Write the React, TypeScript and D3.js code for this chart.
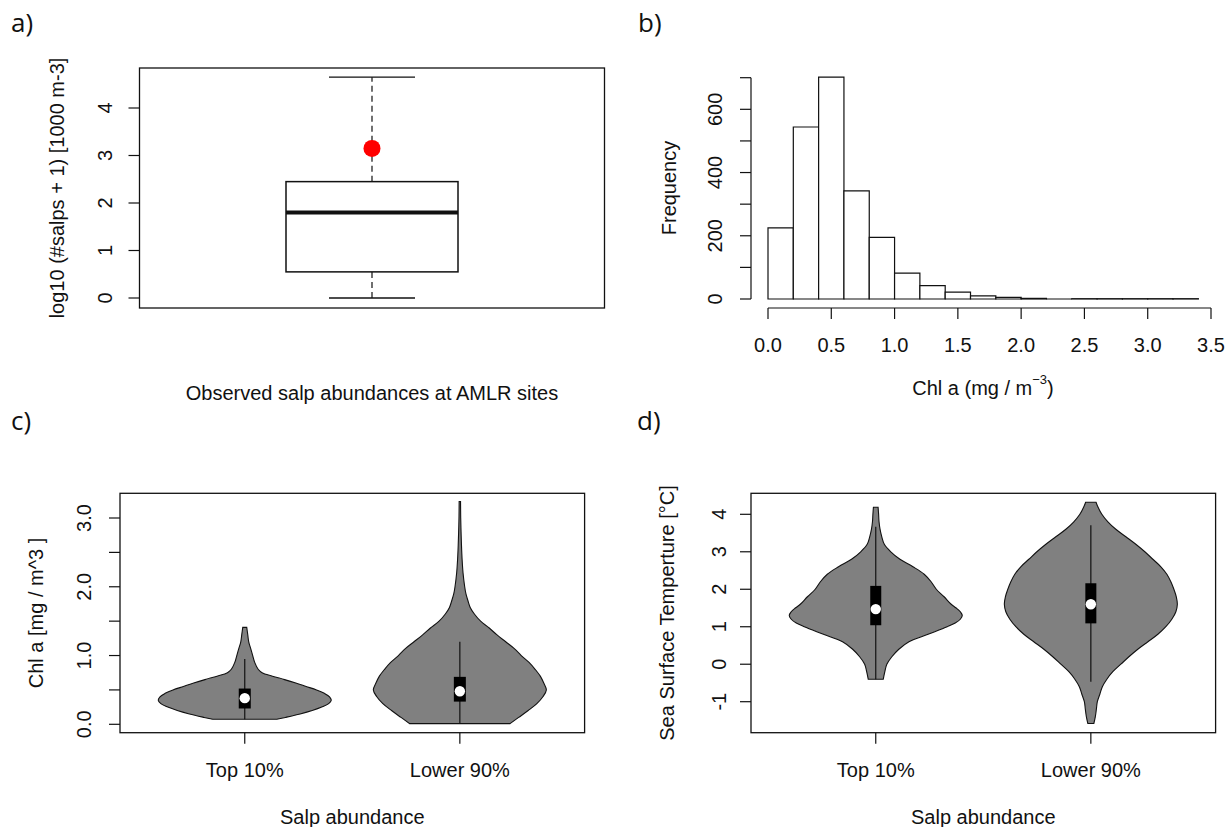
import React from 'react';
import * as d3 from 'd3';

// a) salp abundance boxplot: min, q1, median, q3, max
const salpBox = [0, 0.55, 1.8, 2.45, 4.65];
const salpHighlight = [3.15];
const salpTicks = [0, 1, 2, 3, 4];

// b) Chl a histogram
const chlBinEdges = [0, 0.2, 0.4, 0.6, 0.8, 1.0, 1.2, 1.4, 1.6, 1.8, 2.0, 2.2, 2.4, 2.6, 2.8, 3.0, 3.2, 3.4];
const chlCounts = [225, 544, 702, 342, 195, 82, 42, 22, 10, 5, 2, 0, 1, 1, 1, 1, 1];
const chlXTicks = [0, 0.5, 1.0, 1.5, 2.0, 2.5, 3.0, 3.5];
const freqTicks = [0, 100, 200, 300, 400, 500, 600, 700];
const freqLabels = [0, 200, 400, 600];

// c) and d) violins
const groups = ['Top 10%', 'Lower 90%'];

const chlTopVals = [0.073, 0.1, 0.15, 0.2, 0.25, 0.3, 0.35, 0.4, 0.45, 0.5, 0.55, 0.6, 0.65, 0.7, 0.75, 0.8, 0.9, 1.0, 1.1, 1.2, 1.3, 1.41];
const chlTopDens = [0.37, 0.47, 0.64, 0.78, 0.89, 0.97, 1.0, 0.98, 0.92, 0.83, 0.71, 0.59, 0.46, 0.32, 0.2, 0.155, 0.115, 0.092, 0.069, 0.046, 0.035, 0.023];
const chlLowVals = [0.01, 0.1, 0.2, 0.3, 0.4, 0.5, 0.6, 0.7, 0.8, 0.9, 1.0, 1.1, 1.2, 1.3, 1.4, 1.5, 1.6, 1.7, 1.8, 1.9, 2.0, 2.2, 2.4, 2.6, 2.8, 3.0, 3.24];
const chlLowDens = [0.58, 0.68, 0.79, 0.89, 0.96, 1.0, 0.97, 0.93, 0.87, 0.8, 0.71, 0.63, 0.53, 0.43, 0.34, 0.24, 0.17, 0.12, 0.093, 0.07, 0.056, 0.037, 0.026, 0.019, 0.014, 0.01, 0.008];
// whisker low, q1, median, q3, whisker high
const chlTopBox = [0.073, 0.23, 0.38, 0.52, 0.95];
const chlLowBox = [0.01, 0.33, 0.48, 0.69, 1.2];
const chlViolinTicks = [0, 0.5, 1.0, 1.5, 2.0, 2.5, 3.0];
const chlViolinLabels = [0, 1, 2, 3];

const sstTopVals = [-0.4, -0.2, 0, 0.2, 0.4, 0.6, 0.8, 1.0, 1.1, 1.2, 1.3, 1.4, 1.5, 1.6, 1.8, 2.0, 2.2, 2.4, 2.6, 2.8, 3.0, 3.2, 3.4, 3.6, 3.8, 4.0, 4.19];
const sstTopDens = [0.087, 0.105, 0.128, 0.186, 0.267, 0.384, 0.605, 0.826, 0.919, 0.977, 1.0, 0.977, 0.93, 0.872, 0.79, 0.7, 0.64, 0.56, 0.43, 0.28, 0.174, 0.099, 0.07, 0.05, 0.038, 0.033, 0.027];
const sstLowVals = [-1.58, -1.4, -1.2, -1.0, -0.8, -0.6, -0.4, -0.2, 0, 0.2, 0.4, 0.6, 0.8, 1.0, 1.2, 1.4, 1.6, 1.8, 2.0, 2.2, 2.4, 2.6, 2.8, 3.0, 3.2, 3.4, 3.6, 3.8, 4.0, 4.2, 4.32];
const sstLowDens = [0.035, 0.052, 0.064, 0.075, 0.104, 0.133, 0.185, 0.254, 0.347, 0.44, 0.543, 0.66, 0.775, 0.867, 0.936, 0.983, 1.0, 0.988, 0.96, 0.925, 0.879, 0.81, 0.717, 0.624, 0.52, 0.405, 0.289, 0.197, 0.127, 0.081, 0.06];
const sstTopBox = [-0.4, 1.04, 1.47, 2.09, 3.67];
const sstLowBox = [-0.47, 1.09, 1.6, 2.16, 3.71];
const sstTicks = [-1, 0, 1, 2, 3, 4];

const FONT = '"Liberation Sans", Arial, sans-serif';
const INK = '#111';
const FS = 20;

const PanelLabel = ({ x, y, text }) => (
  <text x={x} y={y} fontFamily='"Open Sans", sans-serif' fontSize={26} fill={INK}>{text}</text>
);

const YAxis = ({ x, y, ticks, labels, fmt, labelX }) => (
  <g>
    {ticks.map((t) => (
      <line key={t} x1={x - 11} x2={x} y1={y(t)} y2={y(t)} stroke={INK} strokeWidth={1.2} />
    ))}
    {labels.map((t) => (
      <text key={t} transform={`translate(${labelX},${y(t)}) rotate(-90)`} textAnchor="middle"
        dominantBaseline="central" fontFamily={FONT} fontSize={FS} fill={INK}>{fmt(t)}</text>
    ))}
  </g>
);

const VTitle = ({ x, y, text }) => (
  <text transform={`translate(${x},${y}) rotate(-90)`} textAnchor="middle" dominantBaseline="central"
    fontFamily={FONT} fontSize={FS} fill={INK}>{text}</text>
);

const HText = ({ x, y, children }) => (
  <text x={x} y={y} textAnchor="middle" dominantBaseline="central" fontFamily={FONT} fontSize={FS} fill={INK}>{children}</text>
);

function BoxPanel() {
  const fr = { x0: 139.5, x1: 604.5, y0: 68, y1: 308 };
  const y = d3.scaleLinear().domain([0, 4]).range([298, 108]);
  const cx = (fr.x0 + fr.x1) / 2;
  const bw = 86;
  const [mn, q1, med, q3, mx] = salpBox;
  return (
    <g>
      <PanelLabel x={11} y={32} text="a)" />
      <rect x={fr.x0} y={fr.y0} width={fr.x1 - fr.x0} height={fr.y1 - fr.y0} fill="none" stroke={INK} strokeWidth={1.3} />
      <YAxis x={fr.x0} y={y} ticks={salpTicks} labels={salpTicks} fmt={(d) => d} labelX={105} />
      <VTitle x={57} y={188} text="log10 (#salps + 1) [1000 m-3]" />
      <line x1={cx} x2={cx} y1={y(q3)} y2={y(mx)} stroke={INK} strokeWidth={1.2} strokeDasharray="6,4" />
      <line x1={cx} x2={cx} y1={y(q1)} y2={y(mn)} stroke={INK} strokeWidth={1.2} strokeDasharray="6,4" />
      <line x1={cx - bw / 2} x2={cx + bw / 2} y1={y(mx)} y2={y(mx)} stroke={INK} strokeWidth={1.3} />
      <line x1={cx - bw / 2} x2={cx + bw / 2} y1={y(mn)} y2={y(mn)} stroke={INK} strokeWidth={1.3} />
      <rect x={cx - bw} y={y(q3)} width={bw * 2} height={y(q1) - y(q3)} fill="white" stroke={INK} strokeWidth={1.5} />
      <line x1={cx - bw} x2={cx + bw} y1={y(med)} y2={y(med)} stroke={INK} strokeWidth={4} />
      {salpHighlight.map((v) => (
        <circle key={v} cx={cx} cy={y(v)} r={8.5} fill="#ff0000" />
      ))}
      <HText x={cx} y={393}>Observed salp abundances at AMLR sites</HText>
    </g>
  );
}

function HistPanel() {
  const x = d3.scaleLinear().domain([0, 3.5]).range([768, 1211]);
  const y = d3.scaleLinear().domain([0, 700]).range([299, 77.7]);
  const bins = chlCounts.map((c, i) => ({ x0: chlBinEdges[i], x1: chlBinEdges[i + 1], c }));
  const axY = 308;
  const axX = 751;
  return (
    <g>
      <PanelLabel x={638} y={32} text="b)" />
      {bins.map((b, i) => (
        <path key={i} d={`M${x(b.x0)},${y(0)}V${y(b.c)}H${x(b.x1)}V${y(0)}Z`}
          fill="white" stroke={INK} strokeWidth={1.2} />
      ))}
      <line x1={axX} x2={axX} y1={y(0)} y2={y(700)} stroke={INK} strokeWidth={1.2} />
      <YAxis x={axX} y={y} ticks={freqTicks} labels={freqLabels} fmt={(d) => d} labelX={715} />
      <line x1={x(0)} x2={x(3.5)} y1={axY} y2={axY} stroke={INK} strokeWidth={1.2} />
      {chlXTicks.map((t) => (
        <g key={t}>
          <line x1={x(t)} x2={x(t)} y1={axY} y2={axY + 11} stroke={INK} strokeWidth={1.2} />
          <HText x={x(t)} y={345}>{d3.format('.1f')(t)}</HText>
        </g>
      ))}
      <VTitle x={669} y={188} text="Frequency" />
      <HText x={983} y={388}>
        Chl a (mg / m<tspan fontSize={13} dy={-9}>−3</tspan><tspan dy={9}>)</tspan>
      </HText>
    </g>
  );
}

function Violin({ cx, y, vals, dens, box, halfW, boxW }) {
  const w = d3.scaleLinear().domain([0, 1]).range([0, halfW]);
  const pts = vals.map((v, i) => [v, dens[i]]);
  const area = d3.area()
    .curve(d3.curveCatmullRom)
    .y((d) => y(d[0]))
    .x0((d) => cx - w(d[1]))
    .x1((d) => cx + w(d[1]));
  const [lo, q1, med, q3, hi] = box;
  return (
    <g>
      <path d={area(pts)} fill="#808080" stroke={INK} strokeWidth={1.1} />
      <line x1={cx} x2={cx} y1={y(lo)} y2={y(hi)} stroke={INK} strokeWidth={1.2} />
      <rect x={cx - boxW} y={y(q3)} width={boxW * 2} height={y(q1) - y(q3)} fill="black" />
      <circle cx={cx} cy={y(med)} r={5.2} fill="white" />
    </g>
  );
}

function ViolinPanel({ fr, y, ticks, labels, fmt, labelX, titleX, title, label, labelPos, violins, boxW }) {
  const x = d3.scalePoint().domain(groups).range([fr.x0, fr.x1]).padding(0.58);
  return (
    <g>
      <PanelLabel x={labelPos[0]} y={labelPos[1]} text={label} />
      {violins.map((v, i) => (
        <Violin key={i} cx={x(groups[i])} y={y} vals={v.vals} dens={v.dens} box={v.box} halfW={86.5} boxW={boxW} />
      ))}
      <rect x={fr.x0} y={fr.y0} width={fr.x1 - fr.x0} height={fr.y1 - fr.y0} fill="none" stroke={INK} strokeWidth={1.3} />
      <YAxis x={fr.x0} y={y} ticks={ticks} labels={labels} fmt={fmt} labelX={labelX} />
      {groups.map((g) => (
        <g key={g}>
          <line x1={x(g)} x2={x(g)} y1={fr.y1} y2={fr.y1 + 11} stroke={INK} strokeWidth={1.2} />
          <HText x={x(g)} y={770}>{g}</HText>
        </g>
      ))}
      <VTitle x={titleX} y={(fr.y0 + fr.y1) / 2} text={title} />
      <HText x={(fr.x0 + fr.x1) / 2} y={817}>Salp abundance</HText>
    </g>
  );
}

export default function App() {
  const frC = { x0: 120, x1: 584.6, y0: 493.3, y1: 732.7 };
  const frD = { x0: 751, x1: 1215.6, y0: 493.3, y1: 732.7 };
  const yC = d3.scaleLinear().domain([0, 3]).range([724.3, 518]);
  const yD = d3.scaleLinear().domain([-1, 4]).range([701.7, 514.3]);
  return (
    <svg width={1226} height={827} style={{ position: 'absolute', left: 0, top: 0, background: 'white' }}>
      <rect width={1226} height={827} fill="white" />
      <BoxPanel />
      <HistPanel />
      <ViolinPanel fr={frC} y={yC} ticks={chlViolinTicks} labels={chlViolinLabels} fmt={d3.format('.1f')}
        labelX={84} titleX={36} title="Chl a [mg / m^3 ]" label="c)" labelPos={[11, 430]} boxW={6}
        violins={[
          { vals: chlTopVals, dens: chlTopDens, box: chlTopBox },
          { vals: chlLowVals, dens: chlLowDens, box: chlLowBox },
        ]} />
      <ViolinPanel fr={frD} y={yD} ticks={sstTicks} labels={sstTicks} fmt={(d) => d}
        labelX={719} titleX={667} title="Sea Surface Temperture [°C]" label="d)" labelPos={[637, 430]} boxW={5.5}
        violins={[
          { vals: sstTopVals, dens: sstTopDens, box: sstTopBox },
          { vals: sstLowVals, dens: sstLowDens, box: sstLowBox },
        ]} />
    </svg>
  );
}
